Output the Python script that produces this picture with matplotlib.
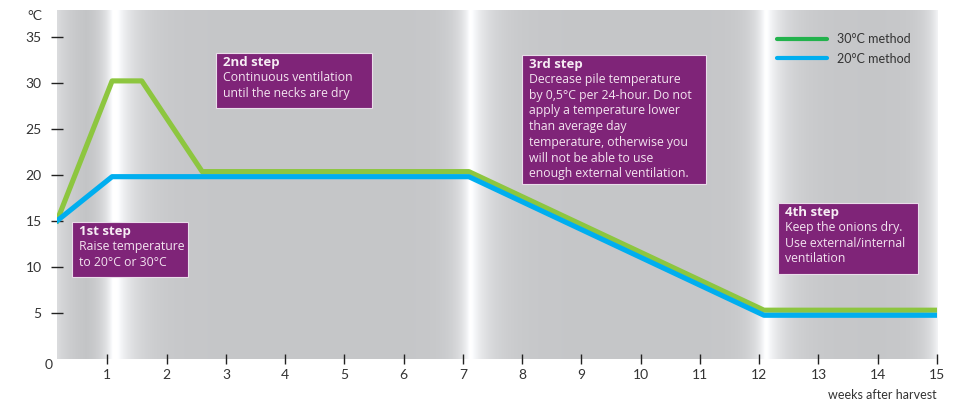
import numpy as np
import matplotlib
matplotlib.use("Agg")
import matplotlib.pyplot as plt
from matplotlib.lines import Line2D
from matplotlib.patches import Rectangle

plt.rcParams['font.family'] = ['Lato', 'DejaVu Sans']
BOX_FONT = ['Open Sans', 'DejaVu Sans']

# data (weeks after harvest, °C)
green_x = [0.15, 1.08, 1.58, 2.6, 7.1, 12.08, 15]
green_y = [15, 30.2, 30.2, 20.35, 20.35, 5.3, 5.3]
blue_x = [0.15, 1.08, 7.1, 12.08, 15]
blue_y = [15, 19.8, 19.8, 4.75, 4.75]

week_ticks = list(range(1, 16))
temp_ticks = [5, 10, 15, 20, 25, 30, 35]

# phase panels (start, end) in weeks
panels = [(0.15, 1.08), (1.17, 7.1), (7.14, 12.08), (12.12, 15)]
panel_gray = [0.745, 0.775, 0.775, 0.775]

steps = [
    ("1st step", "Raise temperature\nto 20°C or 30°C", (72, 222, 188, 277)),
    ("2nd step", "Continuous ventilation\nuntil the necks are dry", (216, 53, 372, 108)),
    ("3rd step", "Decrease pile temperature\nby 0,5°C per 24-hour. Do not\napply a temperature lower\n"
                 "than average day\ntemperature, otherwise you\nwill not be able to use\n"
                 "enough external ventilation.", (522, 55, 706, 184)),
    ("4th step", "Keep the onions dry.\nUse external/internal\nventilation", (778, 203, 918, 274)),
]

W, H = 955, 401
XMIN, XMAX = 0.15, 15
YMAX = 37.9

fig = plt.figure(figsize=(W / 100, H / 100), dpi=100)
ax = fig.add_axes([57 / W, 42 / H, 880 / W, 349 / H])


def fx(px):
    return px / W


def fy(py):
    return 1 - py / H


# background: gray panels fading to white at their edges
xs = np.linspace(XMIN, XMAX, 3000)
g = np.ones_like(xs)
for i, (a, b) in enumerate(panels):
    m = (xs >= a) & (xs <= b)
    base = panel_gray[i]
    left_s = 0.45 if i == 0 else 1.0
    right_s = 0.8 if i == len(panels) - 1 else 0.95
    fade = np.maximum(left_s * np.exp(-(xs[m] - a) / 0.3), right_s * np.exp(-(b - xs[m]) / 0.18))
    g[m] = base + (1 - base) * fade
rgb = np.stack([g, g + 0.004, g + 0.012], axis=-1).clip(0, 1)[None, :, :]
ax.imshow(rgb, extent=(XMIN, XMAX, 0, YMAX), aspect='auto', interpolation='bilinear', zorder=0)

ax.plot(green_x, green_y, color='#8dc63f', lw=3.7, zorder=3)
ax.plot(blue_x, blue_y, color='#00aeef', lw=3.7, zorder=3)

ax.set_xlim(XMIN, XMAX)
ax.set_ylim(0, YMAX)
ax.set_xticks(week_ticks)
ax.set_yticks(temp_ticks)
for s in ax.spines.values():
    s.set_visible(False)
ax.tick_params(axis='x', direction='inout', length=7, width=1, color='#222222',
               pad=4, labelsize=10, labelcolor='#333333')
ax.tick_params(axis='y', direction='inout', length=8, width=1, color='#222222',
               pad=7, labelsize=10, labelcolor='#333333')

fig.text(fx(49), fy(365), "0", ha='center', va='center', fontsize=10, color='#333333')
fig.text(fx(35), fy(16), "°C", ha='center', va='center', fontsize=10, color='#333333')
fig.text(fx(937), fy(395), "weeks after harvest", ha='right', va='center', fontsize=9, color='#333333')

# step boxes
for title, body, (l, t, r, b) in steps:
    fig.patches.append(Rectangle((fx(l), fy(b)), (r - l) / W, (b - t) / H, transform=fig.transFigure,
                                 facecolor='#7f2478', edgecolor='#eadcea', lw=0.8, zorder=5))
    fig.text(fx(l + 7), fy(t + 3), title, ha='left', va='top', fontsize=9.5, fontweight='bold',
             family=BOX_FONT, color='#f6ecf4', zorder=6)
    fig.text(fx(l + 7), fy(t + 18), body, ha='left', va='top', fontsize=8.8, color='#f3e4f0',
             family=BOX_FONT, linespacing=1.27, zorder=6)

handles = [Line2D([], [], color='#22b24c', lw=3, solid_capstyle='round'),
           Line2D([], [], color='#00aeef', lw=3, solid_capstyle='round')]
ax.legend(handles, ["30°C method", "20°C method"], loc='upper left',
          bbox_to_anchor=(fx(766), fy(22)), bbox_transform=fig.transFigure,
          frameon=False, fontsize=9, handlelength=4, handletextpad=0.8,
          labelspacing=0.6, labelcolor='#333333')

fig.savefig("out.png", dpi=100)
